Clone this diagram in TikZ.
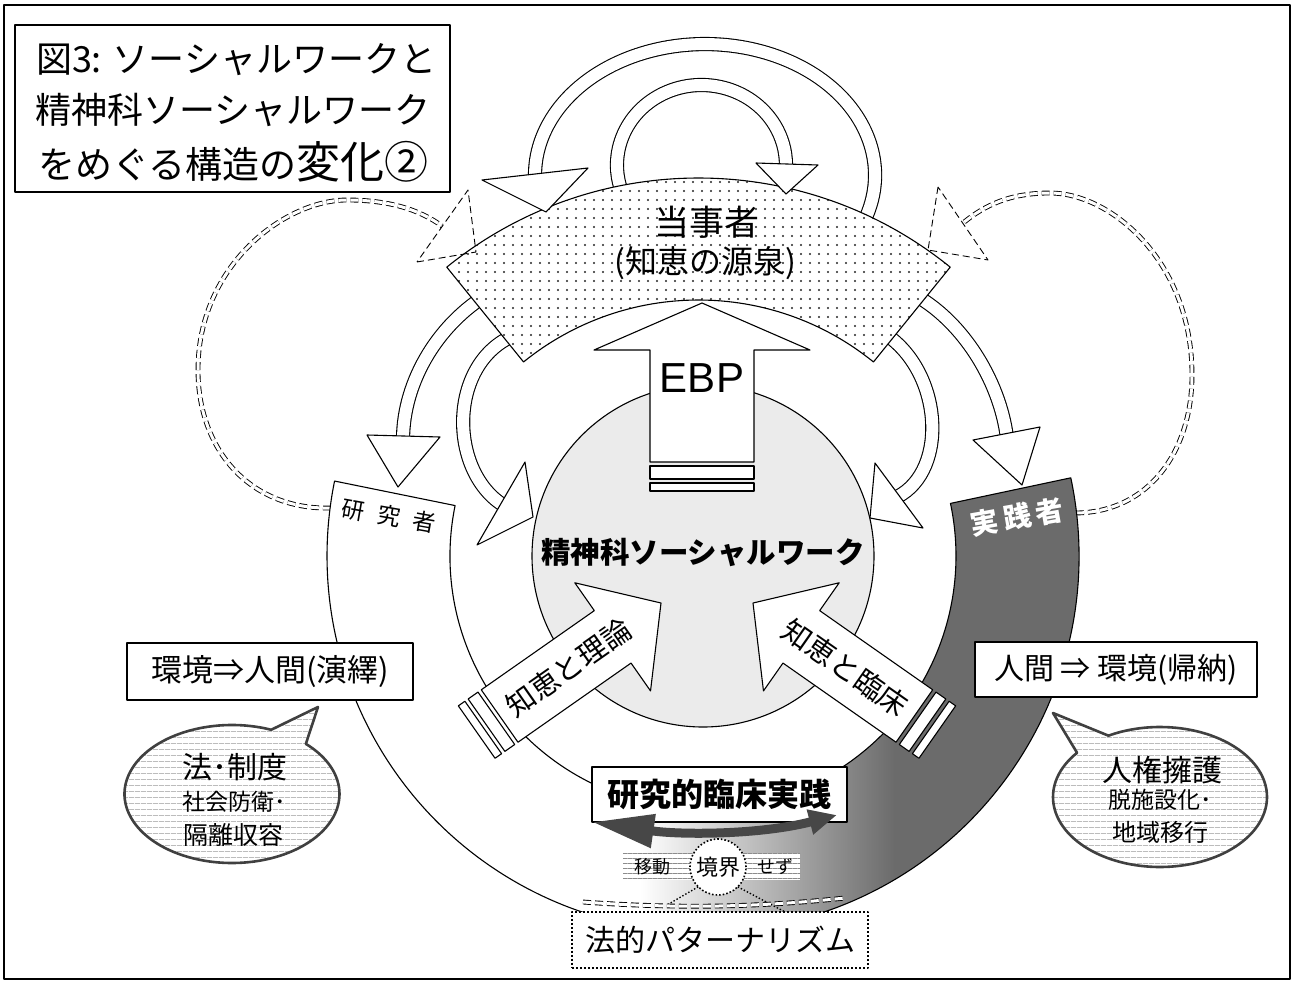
\documentclass[tikz,border=0pt]{standalone}
\usepackage{fontspec}
\setmainfont{Noto Sans CJK JP}
\newfontfamily\arialf{Liberation Sans}
\usetikzlibrary{arrows.meta,patterns.meta,shapes.callouts,shapes.geometric,calc}
\newcommand\fz[1]{\fontsize{#1bp}{#1bp}\selectfont}
\begin{document}
\begin{tikzpicture}[x=1bp,y=-1bp,line join=round,
  every node/.style={inner sep=0pt,outer sep=0pt},
  ln/.style={draw=black,line width=1.1bp},
  shaft/.style={draw=black,line width=1.1bp,double=white,double distance=12bp},
  headw/.style={draw=black,fill=white,line width=1.1bp},
  dloop/.style={draw=black,line width=0.9bp,double=white,double distance=3bp,dash pattern=on 8bp off 4bp},
  dhead/.style={draw=black,line width=0.9bp,dash pattern=on 7bp off 4bp},
  lbox/.style={draw=black,fill=white,line width=1.1bp},
  bubble/.style={ellipse callout,draw=black!75,line width=2.6bp,preaction={fill=white},
     pattern={Lines[angle=0,distance=6bp,line width=0.5bp]},pattern color=black!40,callout pointer arc=22}]
\useasboundingbox (0,0) rectangle (1295,983);
\draw[ln] (4,5) rectangle (1290,979);

\coordinate (C) at (703,556);
\coordinate (T) at (698.5,578);

% dashed loops
\draw[dloop] (331,508) .. controls (250,510) and (198,450) .. (198,370) .. controls (198,265) and (285,200) .. (347,200) .. controls (390,200) and (420,210) .. (442,226);
\draw[dloop] (1076,513) .. controls (1150,512) and (1192,450) .. (1192,375) .. controls (1192,260) and (1110,193) .. (1050,193) .. controls (1010,193) and (985,205) .. (963,223);

% ring
\def\ringpath{($(C)+(-12:376)$) arc[start angle=-12,end angle=191.5,radius=376] -- ($(C)+(191.5:253)$) arc[start angle=191.5,end angle=-12,radius=253] -- cycle}
\begin{scope}
\clip \ringpath;
\fill[white] (300,400) rectangle (1100,960);
\shade[left color=white,right color=black!58] (640,400) rectangle (895,960);
\fill[black!58] (894,400) rectangle (1100,960);
\end{scope}
\draw[ln] \ringpath;

% central circle
\draw[ln,fill=black!8] (C) circle[radius=171];

% curved shafts
\draw[shaft] (859.1,230.4) arc[start angle=25,end angle=-180,x radius=170,y radius=131] -- ++(0,4);
\draw[shaft] (628.3,205) arc[start angle=150,end angle=360,x radius=84.5,y radius=80] -- ++(0,4);
\draw[shaft] (495,290) .. controls (440,320) and (403,380) .. (403,440);
\draw[shaft] (515,335) .. controls (448,362) and (448,470) .. (503,505);
\draw[shaft] (905,290) .. controls (960,315) and (1000,380) .. (1007,438);
\draw[shaft] (882,332) .. controls (942,368) and (950,470) .. (897,497);

% band
\draw[ln,preaction={fill=white},pattern={Dots[distance=9bp,radius=1.1bp]},pattern color=black!85]
  ($(T)+(-129:400)$) arc[start angle=-129,end angle=-51,radius=400] -- ($(T)+(-51:278)$) arc[start angle=-51,end angle=-129,radius=278] -- cycle;
\node at (707,222) {\fz{35}当事者};
\node at (705,263) {\fz{32}(知恵の源泉)};

% heads
\draw[headw] (482,180) -- (546,212) -- (588,168) -- cycle;
\draw[headw] (756,163) -- (786,194) -- (818,165) -- cycle;
\draw[headw] (367,435) -- (398,487) -- (440,437) -- cycle;
\draw[headw] (525,462) -- (533,517) -- (477,545) -- cycle;
\draw[headw] (973,440) -- (1022,485) -- (1040,427) -- cycle;
\draw[headw] (875,463) -- (870,518) -- (923,528) -- cycle;

% dashed heads
\draw[dhead] (417,262) -- (476,252) -- (468,190) -- cycle;
\draw[dhead] (938,187) -- (928,250) -- (988,260) -- cycle;

% EBP
\draw[headw] (702,303) -- (810,350) -- (754,350) -- (754,462) -- (650,462) -- (650,350) -- (594,350) -- cycle;
\draw[headw] (650,466) rectangle (754,479);
\draw[headw] (650,483) rectangle (754,491);
\node at (702,378) {\arialf\fz{42}EBP};

% knowledge arrows
\begin{scope}[shift={(661,603)},rotate=35]
\draw[headw] (0,0) -- (-59,-66) -- (-59,-32) -- (-197,-32) -- (-197,32) -- (-59,32) -- (-59,66) -- cycle;
\draw[headw] (-201,-32) rectangle (-213,32);
\draw[headw] (-217,-32) rectangle (-225,32);
\node[rotate=35] at (-113,0) {\fz{29}知恵と理論};
\end{scope}
\begin{scope}[shift={(753,603)},rotate=145]
\draw[headw] (0,0) -- (-59,-66) -- (-59,-32) -- (-197,-32) -- (-197,32) -- (-59,32) -- (-59,66) -- cycle;
\draw[headw] (-201,-32) rectangle (-213,32);
\draw[headw] (-217,-32) rectangle (-225,32);
\node[rotate=-35] at (-113,0) {\fz{29}知恵と臨床};
\end{scope}

% research-practice box
\node[lbox,minimum width=255bp,minimum height=55bp] (rcp) at (719.5,794.5) {\fz{32}\bfseries 研究的臨床実践};
\draw[line width=9bp,black!72,{Triangle[width=32bp,length=62bp]}-{Triangle[width=24bp,length=28bp]}] (592,822) .. controls (680,835) and (760,835) .. (837,815);

% boundary
\fill[white] (623,853) rectangle (800,880);
\path[pattern={Lines[angle=0,distance=5bp,line width=0.4bp]},pattern color=black!45] (623,853) rectangle (800,880);
\node at (652,867) {\fz{18}移動};
\node at (775,867) {\fz{18}せず};
\node[circle,draw,line width=1.6bp,dotted,fill=white,minimum size=56bp] (kyo) at (718,867) {\fz{22}境界};
\draw[line width=1.4bp,dotted] (kyo.225) -- (667,905);
\draw[line width=1.4bp,dotted] (kyo.-45) -- (787,913);
\draw[dloop] (583,902) .. controls (680,909) and (760,907) .. (845,898);
\node[draw,line width=2bp,dotted,fill=white,minimum width=296bp,minimum height=56bp] (pat) at (720,940) {\fz{30}法的パターナリズム};

% side boxes
\node[lbox,minimum width=286bp,minimum height=57bp] (le) at (270,671.5) {\fz{31}環境⇒人間(演繹)};
\node[lbox,minimum width=282bp,minimum height=55bp] (ri) at (1116,669.5) {\fz{30}人間 ⇒ 環境(帰納)};

% bubbles
\node[bubble,minimum width=215bp,minimum height=138bp,callout absolute pointer={(318,707)}] (bl) at (232,794) {};
\node at (235,767) {\fz{30}法･制度};
\node at (234,802) {\fz{23}社会防衛･};
\node at (233,835) {\fz{25}隔離収容};
\node[bubble,minimum width=214bp,minimum height=140bp,callout absolute pointer={(1053,713)}] (br) at (1160,797) {};
\node at (1162,770) {\fz{30}人権擁護};
\node at (1160,800) {\fz{23}脱施設化･};
\node at (1160,832) {\fz{24}地域移行};

% ring labels
\node[rotate=-10] at (389,516) {\fz{23}研\hspace{13bp}究\hspace{13bp}者};
\node[rotate=10,text=white] at (1017,517) {\fz{28}\bfseries 実\hspace{5bp}践\hspace{5bp}者};

% circle label
\node at (703,553) {\fz{29.5}\bfseries 精神科ソーシャルワーク};

% title
\node[ln,minimum width=435bp,minimum height=167bp] (tb) at (232.5,108.5) {};
\node[anchor=west] at (36,60) {\fz{36}図3: ソーシャルワークと};
\node[anchor=west] at (35,110) {\fz{36}精神科ソーシャルワーク};
\node[anchor=west] at (38,162) {\fz{37}をめぐる構造の{\fz{44}変化②}};
\end{tikzpicture}
\end{document}
